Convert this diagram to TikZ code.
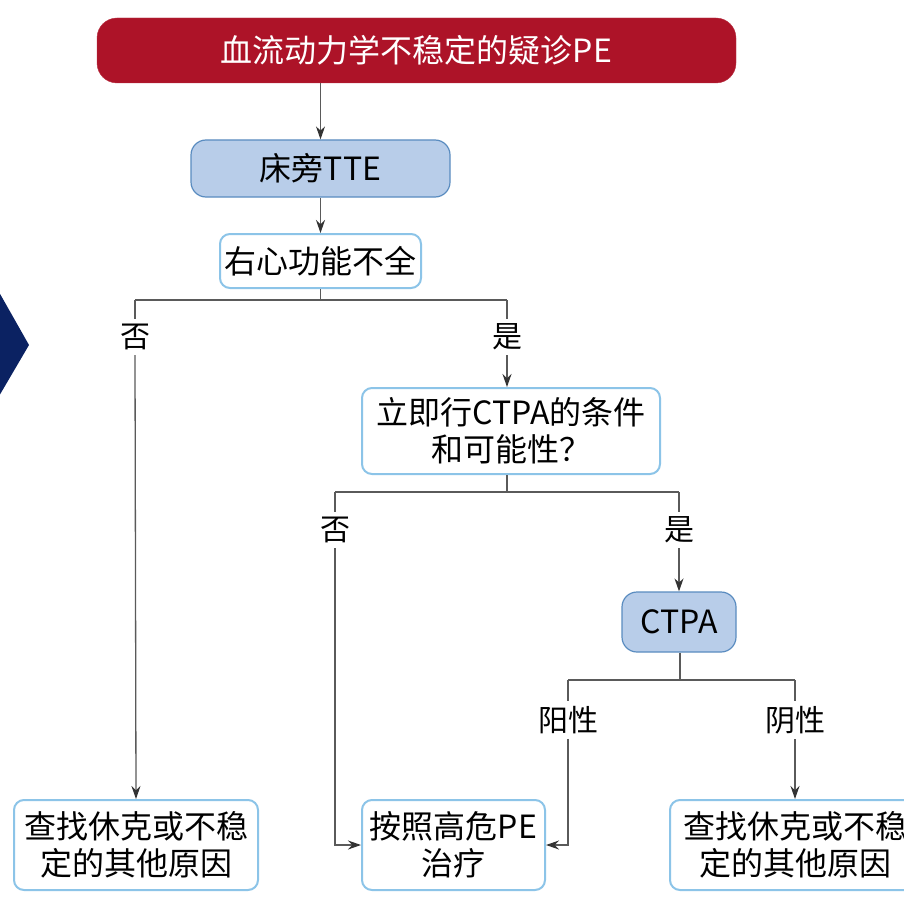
\documentclass[tikz,border=0pt]{standalone}
\usepackage{fontspec}
\setmainfont{Noto Sans CJK SC}
\usetikzlibrary{arrows.meta}
\definecolor{titlered}{HTML}{AD1328}
\definecolor{bluefill}{HTML}{B8CDE9}
\definecolor{blueedge}{HTML}{5A8CC0}
\definecolor{lightedge}{HTML}{8CC4E8}
\definecolor{navy}{HTML}{0B2262}
\definecolor{linegray}{HTML}{5A5A5A}
\begin{document}
\begin{tikzpicture}[x=1pt,y=-1pt,
  titlebox/.style={draw=titlered!85!white, fill=titlered, rounded corners=20pt, text=white,
     font=\fontsize{32}{38}\selectfont, inner sep=0pt},
  filledbox/.style={draw=blueedge, line width=1.2pt, fill=bluefill, rounded corners=15pt,
     font=\fontsize{32}{37}\selectfont, inner sep=0pt, align=center},
  plainbox/.style={draw=lightedge, line width=2pt, fill=white, rounded corners=10pt,
     font=\fontsize{32}{37}\selectfont, inner sep=0pt, align=center},
  lbl/.style={font=\fontsize{30}{34}\selectfont, inner sep=5pt},
  conn/.style={draw=linegray, line width=1.3pt},
  arr/.style={conn, -{Stealth[length=13pt,width=9pt,color=black!80]}}
]
\clip (0,0) rectangle (904,896);
\useasboundingbox (0,0) rectangle (904,896);
\fill[white] (0,0) rectangle (904,896);
% chevron
\fill[navy] (-5,285) -- (29,345) -- (-5,403) -- cycle;

% nodes
\node[titlebox, minimum width=639pt, minimum height=65pt] (title) at (416.5,50.5) {血流动力学不稳定的疑诊PE};
\node[filledbox, minimum width=259pt, minimum height=57pt] (tte) at (320.5,168.5) {床旁TTE};
\node[plainbox, minimum width=201pt, minimum height=54pt] (rv) at (320.5,261) {右心功能不全};
\node[plainbox, minimum width=298pt, minimum height=86pt] (cq) at (511,431) {立即行CTPA的条件\\和可能性？};
\node[filledbox, minimum width=114pt, minimum height=60pt] (ctpa) at (679,622) {CTPA};
\node[plainbox, minimum width=244pt, minimum height=90pt] (bl) at (136,845) {查找休克或不稳\\定的其他原因};
\node[plainbox, minimum width=183pt, minimum height=90pt] (bm) at (453.5,845) {按照高危PE\\治疗};
\node[plainbox, minimum width=250pt, minimum height=90pt] (br) at (795,845) {查找休克或不稳\\定的其他原因};

% labels
\node[lbl] (no1) at (135,337) {否};
\node[lbl] (yes1) at (507,337) {是};
\node[lbl] (no2) at (335,530) {否};
\node[lbl] (yes2) at (679,530) {是};
\node[lbl] (pos) at (568,720) {阳性};
\node[lbl] (neg) at (795,720) {阴性};

% branch coordinates
\coordinate (b1) at (320.5,300);
\coordinate (b1l) at (135,300);
\coordinate (b1r) at (507,300);
\coordinate (b2) at (507,492);
\coordinate (b2l) at (335,492);
\coordinate (b2r) at (679,492);
\coordinate (b3) at (680,680);
\coordinate (b3l) at (568,680);
\coordinate (b3r) at (795,680);

% connectors
\draw[arr] (tte.north |- title.south) -- (tte.north);
\draw[arr] (tte) -- (rv);
\draw[conn] (rv.south) -- (b1);
\draw[conn] (b1l) -- (b1r);
\draw[conn] (b1l) -- (no1.north);
\draw[arr] (no1.south) -- (bl.north);
\draw[conn] (b1r) -- (yes1.north);
\draw[arr] (yes1.south) -- (yes1.south |- cq.north);

\draw[conn] (b2 |- cq.south) -- (b2);
\draw[conn] (b2l) -- (b2r);
\draw[conn] (b2l) -- (no2.north);
\draw[arr] (no2.south) |- (bm.west);
\draw[conn] (b2r) -- (yes2.north);
\draw[arr] (yes2.south) -- (ctpa.north);

\draw[conn] (b3 |- ctpa.south) -- (b3);
\draw[conn] (b3l) -- (b3r);
\draw[conn] (b3l) -- (pos.north);
\draw[arr] (pos.south) |- (bm.east);
\draw[conn] (b3r) -- (neg.north);
\draw[arr] (neg.south) -- (br.north);
\end{tikzpicture}
\end{document}
